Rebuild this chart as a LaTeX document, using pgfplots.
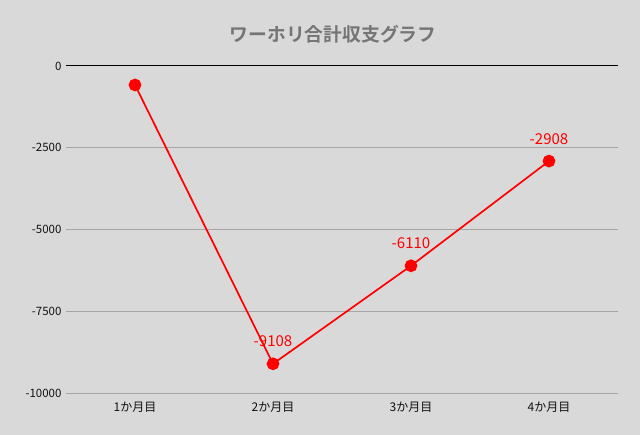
\documentclass[border=0pt]{standalone}
\usepackage{pgfplots}
\pgfplotsset{compat=1.18}
\usepackage{fontspec}
\setmainfont{Noto Sans CJK JP}
\newfontfamily\titlefont{Noto Sans CJK JP Bold}
\definecolor{bg}{HTML}{D9D9D9}
\definecolor{gridc}{HTML}{A6A6A6}
\definecolor{titlec}{HTML}{757575}
\definecolor{tickc}{HTML}{111111}

\pgfplotstableread{
x y label
0 -580 {}
1 -9108 -9108
2 -6110 -6110
3 -2908 -2908
}\sales

\begin{document}
\begin{tikzpicture}[x=1pt,y=1pt]
\fill[bg] (0,0) rectangle (640,435);
\node[font=\titlefont\fontsize{18.8}{20}\selectfont, text=titlec] at (333,401) {ワーホリ合計収支グラフ};
\begin{axis}[
  at={(66pt,42pt)}, anchor=south west,
  width=552pt, height=327pt, scale only axis,
  xmin=-0.5, xmax=3.5, ymin=-10000, ymax=0,
  xtick={0,1,2,3},
  xticklabels={1か月目,2か月目,3か月目,4か月目},
  ytick={-10000,-7500,-5000,-2500},
  extra y ticks={0},
  extra y tick style={grid style={black, line width=1pt}},
  scaled y ticks=false,
  ymajorgrids, grid style={gridc, line width=0.8pt},
  axis line style={draw=none},
  major tick length=0pt,
  tick label style={font=\fontsize{11.5}{12}\selectfont, text=tickc},
  xticklabel style={font=\fontsize{12}{13}\selectfont, yshift=-5pt},
  yticklabel style={xshift=-1pt},
  /pgf/number format/assume math mode=true,
  /pgf/number format/.cd, fixed, 1000 sep={},
  /pgfplots/.cd,
  clip=false,
]
\addplot[red, line width=1.7pt, mark=*, mark size=5.5pt, mark options={fill=red, draw=red},
  nodes near coords, point meta=explicit symbolic,
  every node near coord/.append style={font=\fontsize{15}{16}\selectfont, text=red, anchor=south, inner sep=0pt, yshift=16pt}]
  table[x=x, y=y, meta=label] {\sales};
\end{axis}
\end{tikzpicture}
\end{document}
